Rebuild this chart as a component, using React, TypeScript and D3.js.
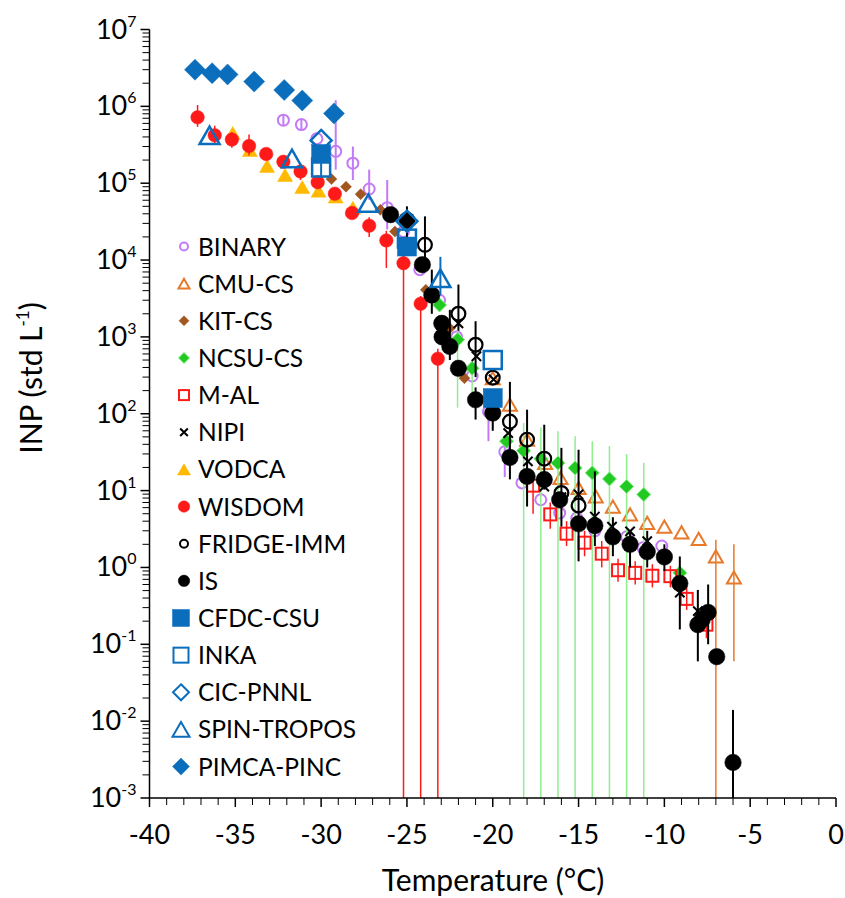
import * as d3 from 'd3';

// [temperature °C, INP std L-1, lower bar, upper bar]
type Pt = [number, number, number?, number?];

const X_TICKS = [-40, -35, -30, -25, -20, -15, -10, -5, 0];
const Y_EXPONENTS = [-3, -2, -1, 0, 1, 2, 3, 4, 5, 6, 7];

const BINARY: Pt[] = [
  [-32.2, 6.6e5, 5.6e5, 7.8e5], [-31.15, 5.8e5, 4.9e5, 6.8e5], [-30.25, 3.8e5],
  [-29.15, 2.6e5, 1.5e5, 1.2e6], [-28.15, 1.82e5, 1.1e5, 3.0e5], [-27.2, 8.4e4, 6.1e4, 1.5e5],
  [-26.15, 4.8e4, 2.5e4, 1.1e5], [-25.2, 2.35e4], [-24.25, 7.5e3], [-23.1, 3.0e3],
  [-22.1, 1.0e3], [-21.2, 3.1e2], [-20.25, 1.07e2, 44, 1.6e2], [-19.3, 32, 15, 45],
  [-18.3, 12.6], [-17.2, 7.6], [-16.1, 5.1], [-15.1, 4.4], [-14.05, 3.0],
  [-12.2, 2.5], [-11.25, 1.8], [-10.15, 1.9],
];
const CMU_CS: Pt[] = [
  [-20, 2.9e2], [-19, 1.31e2], [-18, 46], [-16.95, 22.9], [-16.05, 14.6], [-15, 10.8],
  [-14, 8.4], [-13, 6.2], [-12, 4.9], [-11, 3.8], [-10, 3.4], [-9, 2.86], [-8, 2.35],
  [-7, 1.39, 1e-3, 2.3], [-5.95, 0.74, 0.06, 2.0],
];
const KIT_CS: Pt[] = [
  [-29.4, 1.13e5], [-28.55, 9.0e4], [-27.7, 7.2e4], [-26.55, 4.5e4], [-25.7, 2.35e4],
  [-23.9, 4.1e3], [-22.5, 1.3e3], [-21.65, 2.9e2],
];
const NCSU_CS: Pt[] = [
  [-23.1, 2.6e3], [-22.05, 9.2e2, 1.2e2, 1.2e3], [-21.2, 3.9e2, 1.2e2, 5e2], [-19.2, 44],
  [-18.2, 33, 1e-3, 76], [-17.2, 26, 1e-3, 66], [-16.2, 22.9, 1e-3, 59], [-15.2, 19.7, 1e-3, 51],
  [-14.2, 17, 1e-3, 44], [-13.2, 14.2, 1e-3, 38], [-12.2, 11.3, 1e-3, 30], [-11.2, 8.9, 1e-3, 23],
  [-9.1, 0.85],
];
const M_AL: Pt[] = [
  [-17.65, 11.6, 5, 17], [-16.65, 4.9, 3.2, 7], [-15.7, 2.75, 1.9, 4], [-14.65, 2.1, 1.4, 3.0],
  [-13.65, 1.51, 1.0, 2.2], [-12.7, 0.92, 0.65, 1.3], [-11.7, 0.85, 0.6, 1.2],
  [-10.7, 0.78, 0.55, 1.1], [-9.65, 0.77, 0.55, 1.05], [-8.7, 0.39, 0.28, 0.55],
  [-7.55, 0.18, 0.12, 0.26],
];
const NIPI: Pt[] = [
  [-22, 1.5e3], [-20.95, 5.6e2], [-19.95, 2.8e2], [-19.1, 56], [-17.95, 24], [-17, 11.3],
  [-16, 8.2], [-15, 8.9], [-14.05, 4.6], [-13.05, 3.4], [-12, 2.95], [-11, 2.2],
  [-9.1, 0.47], [-8.05, 0.27],
];
const VODCA: Pt[] = [
  [-35.15, 4.5e5], [-34.15, 2.7e5], [-33.15, 1.68e5], [-32.1, 1.28e5], [-31.1, 8.9e4],
  [-30.15, 8.0e4], [-29.15, 6.7e4], [-28.15, 4.8e4],
];
const WISDOM: Pt[] = [
  [-37.2, 7.2e5, 5.4e5, 1.04e6], [-36.2, 4.2e5, 3.2e5, 5.6e5], [-35.2, 3.7e5, 2.9e5, 4.6e5],
  [-34.2, 3.05e5, 2.3e5, 4.3e5], [-33.2, 2.4e5], [-32.2, 1.9e5], [-31.2, 1.42e5, 1.1e5, 1.8e5],
  [-30.2, 1.03e5], [-29.2, 7.3e4], [-28.2, 4.1e4], [-27.2, 2.8e4, 2.0e4, 3.6e4],
  [-26.2, 1.8e4, 7.9e3, 2.4e4], [-25.2, 9.1e3, 1e-3, 1.2e4], [-24.2, 2.7e3, 1e-3, 3.4e3],
  [-23.2, 5.2e2, 1e-3, 7e2],
];
const FRIDGE_IMM: Pt[] = [
  [-23.95, 1.58e4, 7.5e3, 3.7e4], [-22, 2.0e3, 1.2e3, 4.8e3], [-21, 7.9e2, 3e2, 1.6e3],
  [-20, 2.95e2], [-19, 79, 14, 2.6e2], [-18, 46, 6.2, 1.13e2], [-17, 26, 10.3, 72],
  [-16, 9.3, 3.4, 36], [-15, 6.4, 1.2, 34],
];
const IS: Pt[] = [
  [-25.95, 3.9e4], [-25.0, 3.3e4, 1.8e4, 5e4], [-24.1, 8.7e3], [-23.55, 3.5e3, 2.0e3, 7.5e3],
  [-22.97, 1.5e3], [-22.95, 1.0e3], [-22.5, 7.5e2, 5e2, 2.25e3], [-22, 3.9e2],
  [-21, 1.52e2, 84, 2.2e2], [-20, 1.02e2, 60, 1.3e2], [-19, 27], [-18, 15.3], [-17, 13.9],
  [-16.1, 7.6], [-15, 3.7], [-14.05, 3.5, 1.9, 17.8], [-13, 2.5, 1.4, 4.5], [-12, 2.0, 1.0, 3],
  [-11, 1.6, 1.0, 3], [-10, 1.37, 0.9, 2], [-9.1, 0.62, 0.156, 1.39], [-8.05, 0.18, 0.06, 0.51],
  [-7.8, 0.21], [-7.45, 0.26, 0.1, 0.6], [-6.95, 0.069], [-6.0, 0.0029, 1e-3, 0.014],
];
const CFDC_CSU: Pt[] = [[-30, 2.4e5], [-25, 1.5e4], [-20, 1.6e2]];
const INKA: Pt[] = [[-30, 1.6e5, 1.2e5, 2.2e5], [-25, 1.9e4], [-20, 5.0e2]];
const CIC_PNNL: Pt[] = [[-30, 3.6e5], [-25, 3.2e4]];
const SPIN_TROPOS: Pt[] = [[-36.5, 4.2e5], [-31.7, 2.1e5], [-27.25, 5.5e4], [-23.05, 5.8e3, 3.5e3, 1.1e4]];
const PIMCA_PINC: Pt[] = [
  [-37.35, 3.0e6], [-36.35, 2.7e6], [-35.45, 2.6e6], [-33.9, 2.1e6], [-32.15, 1.63e6],
  [-31.1, 1.19e6], [-29.25, 8.1e5],
];

const PURPLE = '#c47af7';
const ORANGE = '#e8792a';
const BROWN = '#a0561e';
const GREEN = '#22c922';
const RED = '#ff1a1a';
const YELLOW = '#ffb900';
const BLUE = '#0a6ebd';

type Shape = 'circle' | 'triangle' | 'square' | 'diamond' | 'x';
interface Series {
  name: string; data: Pt[]; shape: Shape; size: number; lsize: number;
  fill: string; stroke: string; sw: number; bar: string; bw: number;
}

const SERIES: Series[] = [
  { name: 'BINARY', data: BINARY, shape: 'circle', size: 13, lsize: 10, fill: 'none', stroke: PURPLE, sw: 2, bar: PURPLE, bw: 2 },
  { name: 'CMU-CS', data: CMU_CS, shape: 'triangle', size: 14, lsize: 11, fill: 'none', stroke: ORANGE, sw: 2, bar: ORANGE, bw: 1.5 },
  { name: 'KIT-CS', data: KIT_CS, shape: 'diamond', size: 11, lsize: 10, fill: BROWN, stroke: BROWN, sw: 0.5, bar: BROWN, bw: 1.5 },
  { name: 'NCSU-CS', data: NCSU_CS, shape: 'diamond', size: 14, lsize: 11, fill: GREEN, stroke: '#7ff07f', sw: 1, bar: '#8fef8f', bw: 1.5 },
  { name: 'M-AL', data: M_AL, shape: 'square', size: 12, lsize: 10, fill: 'none', stroke: RED, sw: 2, bar: RED, bw: 1.5 },
  { name: 'NIPI', data: NIPI, shape: 'x', size: 11, lsize: 9, fill: 'none', stroke: '#000', sw: 2, bar: '#000', bw: 1.5 },
  { name: 'VODCA', data: VODCA, shape: 'triangle', size: 15, lsize: 13, fill: YELLOW, stroke: YELLOW, sw: 0.5, bar: YELLOW, bw: 1.5 },
  { name: 'WISDOM', data: WISDOM, shape: 'circle', size: 14, lsize: 12, fill: RED, stroke: RED, sw: 0.5, bar: RED, bw: 1.5 },
  { name: 'FRIDGE-IMM', data: FRIDGE_IMM, shape: 'circle', size: 16, lsize: 10, fill: 'none', stroke: '#000', sw: 2.2, bar: '#000', bw: 2 },
  { name: 'IS', data: IS, shape: 'circle', size: 17, lsize: 12, fill: '#000', stroke: '#000', sw: 0.5, bar: '#000', bw: 2 },
  { name: 'CFDC-CSU', data: CFDC_CSU, shape: 'square', size: 19, lsize: 17, fill: BLUE, stroke: BLUE, sw: 0.5, bar: BLUE, bw: 2 },
  { name: 'INKA', data: INKA, shape: 'square', size: 18, lsize: 15, fill: 'none', stroke: BLUE, sw: 2.5, bar: BLUE, bw: 2 },
  { name: 'CIC-PNNL', data: CIC_PNNL, shape: 'diamond', size: 21, lsize: 16, fill: 'none', stroke: BLUE, sw: 2.5, bar: BLUE, bw: 2 },
  { name: 'SPIN-TROPOS', data: SPIN_TROPOS, shape: 'triangle', size: 20, lsize: 17, fill: 'none', stroke: BLUE, sw: 2.5, bar: BLUE, bw: 2 },
  { name: 'PIMCA-PINC', data: PIMCA_PINC, shape: 'diamond', size: 21, lsize: 17, fill: BLUE, stroke: BLUE, sw: 0.5, bar: BLUE, bw: 2 },
];

const FONT = 'Lato, "Open Sans", sans-serif';

function Marker({ s, size, x, y }: { s: Series; size: number; x: number; y: number }) {
  const h = size / 2;
  const common = { fill: s.fill, stroke: s.stroke, strokeWidth: s.sw };
  if (s.shape === 'circle') return <circle cx={x} cy={y} r={h - s.sw / 2} {...common} />;
  if (s.shape === 'square') return <rect x={x - h} y={y - h} width={size} height={size} {...common} />;
  if (s.shape === 'diamond')
    return <path d={`M${x},${y - h}L${x + h},${y}L${x},${y + h}L${x - h},${y}Z`} {...common} />;
  if (s.shape === 'triangle') {
    const th = size * 0.87;
    return <path d={`M${x},${y - th / 2}L${x + h},${y + th / 2}L${x - h},${y + th / 2}Z`} {...common} strokeLinejoin="miter" />;
  }
  const k = h * 0.85;
  return <path d={`M${x - k},${y - k}L${x + k},${y + k}M${x + k},${y - k}L${x - k},${y + k}`} {...common} />;
}

export default function App() {
  const left = 149.5, right = 836, top = 29.5, bottom = 798;
  const x = d3.scaleLinear().domain([-40, 0]).range([left, right]);
  const y = d3.scaleLog().domain([1e-3, 1e7]).range([bottom, top]);

  const minorY: number[] = [];
  for (let e = -3; e < 7; e++) for (let m = 2; m <= 9; m++) minorY.push(m * Math.pow(10, e));
  const minorX = d3.range(-40, 1, 1);

  return (
    <div style={{ position: 'absolute', left: 0, top: 0 }}>
      <svg width={845} height={898} style={{ display: 'block', fontFamily: FONT }}>
        <rect width={845} height={898} fill="#fff" />

        {/* data: error bars then markers, series in legend order */}
        {SERIES.map((s) => (
          <g key={s.name}>
            {s.data.filter((d) => d[2] !== undefined).map((d, i) => (
              <line key={'b' + i} x1={x(d[0])} x2={x(d[0])} y1={y(d[2] as number)} y2={y(d[3] as number)}
                stroke={s.bar} strokeWidth={s.bw} />
            ))}
            {s.data.map((d, i) => (
              <Marker key={i} s={s} size={s.size} x={x(d[0])} y={y(d[1])} />
            ))}
          </g>
        ))}

        {/* y axis */}
        <line x1={left} x2={left} y1={top} y2={bottom} stroke="#000" strokeWidth={1.5} />
        {minorY.map((v, i) => (
          <line key={i} x1={left - 7} x2={left} y1={y(v)} y2={y(v)} stroke="#000" strokeWidth={1} />
        ))}
        {Y_EXPONENTS.map((e) => (
          <g key={e}>
            <line x1={left - 9} x2={left} y1={y(Math.pow(10, e))} y2={y(Math.pow(10, e))} stroke="#000" strokeWidth={1.5} />
            <text x={left - 13} y={y(Math.pow(10, e)) + 9} textAnchor="end" fontSize={27}>
              10<tspan fontSize={16} dy={-12}>{e}</tspan>
            </text>
          </g>
        ))}

        {/* x axis */}
        <line x1={left} x2={right} y1={bottom} y2={bottom} stroke="#000" strokeWidth={1.5} />
        {minorX.map((t) => (
          <line key={t} x1={x(t)} x2={x(t)} y1={bottom} y2={bottom + (t % 5 === 0 ? 9 : 7)}
            stroke="#000" strokeWidth={t % 5 === 0 ? 1.5 : 1} />
        ))}
        {X_TICKS.map((t) => (
          <text key={t} x={x(t)} y={bottom + 46} textAnchor="middle" fontSize={27}>{t}</text>
        ))}

        <text x={493} y={891} textAnchor="middle" fontSize={30}>Temperature (°C)</text>
        <text transform={`translate(42,378) rotate(-90)`} textAnchor="middle" fontSize={30}>
          INP (std L<tspan fontSize={17} dy={-13}>-1</tspan><tspan dy={13}>)</tspan>
        </text>

        {/* legend */}
        {SERIES.map((s, i) => {
          const ly = 246.5 + i * 37.15;
          return (
            <g key={'l' + s.name}>
              <Marker s={{ ...s, sw: Math.min(s.sw, 2) }} size={s.lsize} x={i >= 10 ? 181 : 184} y={ly} />
              <text x={198} y={ly + 9} fontSize={24.5}>{s.name}</text>
            </g>
          );
        })}
      </svg>
    </div>
  );
}
